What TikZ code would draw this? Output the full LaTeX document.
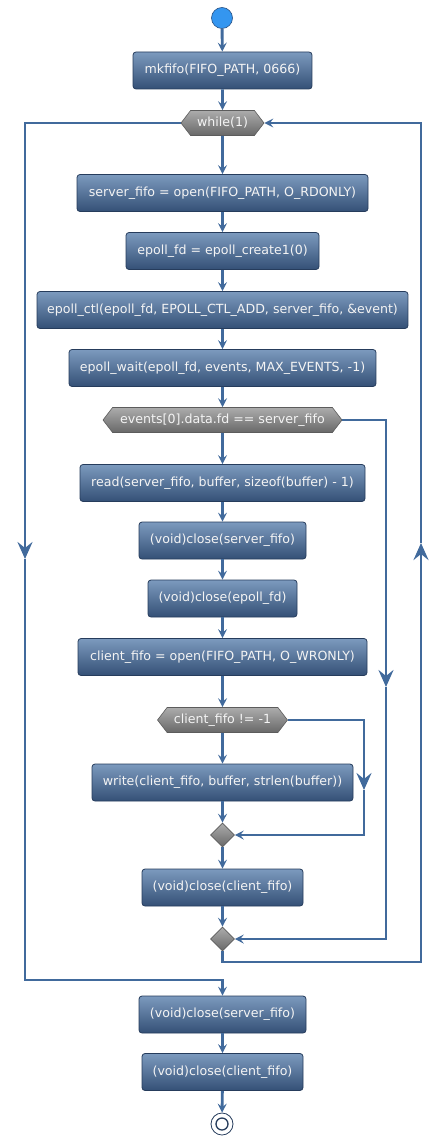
\documentclass[tikz,border=0pt]{standalone}
\usepackage{fontspec}
\setmainfont{DejaVu Sans}
\usetikzlibrary{arrows.meta,shapes.geometric,shapes.symbols}
\definecolor{flowline}{RGB}{65,106,156}
\definecolor{acttop}{RGB}{124,154,190}
\definecolor{actbottom}{RGB}{52,80,118}
\definecolor{actborder}{RGB}{38,60,92}
\definecolor{testtop}{RGB}{172,172,172}
\definecolor{testbottom}{RGB}{104,104,104}
\definecolor{testborder}{RGB}{92,92,92}
\definecolor{acttext}{RGB}{244,244,244}
\definecolor{startfill}{RGB}{52,150,240}
\definecolor{startborder}{RGB}{40,80,130}

\begin{document}
\begin{tikzpicture}[x=1pt, y=-1pt,
                      act/.style={draw=actborder, line width=.8pt, rounded corners=3pt, top color=acttop, bottom color=actbottom,
                                  text=acttext, minimum height=37pt, inner sep=0pt, font=\fontsize{12.6}{14}\selectfont},
                      test/.style={shape=signal, signal to=west and east, signal pointer angle=105, draw=testborder, line width=.6pt,
                                   top color=testtop, bottom color=testbottom, text=acttext, minimum height=25pt, inner sep=0pt,
                                   font=\fontsize{12.6}{14}\selectfont},
                      merge/.style={diamond, draw=testborder, line width=.6pt, top color=testtop, bottom color=testbottom,
                                    minimum size=24pt, inner sep=0pt},
                      loop/.style={draw=flowline, line width=2.9pt},
                      flow/.style={loop, -{Stealth[length=9pt, width=9pt, inset=3.5pt]}},
                      bigtip/.style={loop, -{Stealth[length=17pt, width=15pt, inset=6pt]}}]
                      \useasboundingbox (0,0) rectangle (446,1145);
                      % start and end
                      \node[circle, fill=startfill, draw=startborder, line width=.6pt, minimum size=21pt, inner sep=0pt] (start) at (222,18) {};
                      \node[circle, fill=white, draw=actborder, line width=.8pt, minimum size=22pt, inner sep=0pt] (stop) at (222,1124) {};
                      \node[circle, draw=actborder, line width=1.3pt, minimum size=12pt, inner sep=0pt] (stopin) at (stop) {};
                      % actions
                      \node[act, minimum width=179pt] (mk) at (222.5,70.5) {mkfifo(FIFO\_PATH, 0666)};
                      \node[test, minimum width=83pt] (wh) at (222.5,123) {while(1)};
                      \node[act, minimum width=291pt] (srv) at (222.5,193) {server\_fifo = open(FIFO\_PATH, O\_RDONLY)};
                      \node[act, minimum width=193pt] (efd) at (222.5,251) {epoll\_fd = epoll\_create1(0)};
                      \node[act, minimum width=371pt] (ectl) at (222.5,310) {epoll\_ctl(epoll\_fd, EPOLL\_CTL\_ADD, server\_fifo, \&event)};
                      \node[act, minimum width=307pt] (ewait) at (222.5,368) {epoll\_wait(epoll\_fd, events, MAX\_EVENTS, -1)};
                      \node[test, minimum width=239pt] (ev) at (222.5,420) {events[0].data.fd == server\_fifo};
                      \node[act, minimum width=285pt] (rd) at (222.5,483) {read(server\_fifo, buffer, sizeof(buffer) - 1)};
                      \node[act, minimum width=167pt] (cls) at (222.5,540.5) {(void)close(server\_fifo)};
                      \node[act, minimum width=149pt] (cle) at (222.5,598.5) {(void)close(epoll\_fd)};
                      \node[act, minimum width=289pt] (opc) at (222.5,657) {client\_fifo = open(FIFO\_PATH, O\_WRONLY)};
                      \node[test, minimum width=130pt] (chk) at (222.5,720) {client\_fifo != -1};
                      \node[act, minimum width=261pt] (wr) at (222.5,782.5) {write(client\_fifo, buffer, strlen(buffer))};
                      \node[merge] (m1) at (222.5,835) {};
                      \node[act, minimum width=161pt] (clc) at (222.5,887.5) {(void)close(client\_fifo)};
                      \node[merge] (m2) at (222.5,939) {};
                      \node[act, minimum width=167pt] (fs) at (222.5,1014.5) {(void)close(server\_fifo)};
                      \node[act, minimum width=161pt] (fc) at (222.5,1072) {(void)close(client\_fifo)};
                      % main flow
                      \draw[flow] (start) -- (mk);
                      \draw[flow] (mk) -- (wh);
                      \draw[flow] (wh) -- (srv);
                      \draw[flow] (srv) -- (efd);
                      \draw[flow] (efd) -- (ectl);
                      \draw[flow] (ectl) -- (ewait);
                      \draw[flow] (ewait) -- (ev);
                      \draw[flow] (ev) -- (rd);
                      \draw[flow] (rd) -- (cls);
                      \draw[flow] (cls) -- (cle);
                      \draw[flow] (cle) -- (opc);
                      \draw[flow] (opc) -- (chk);
                      \draw[flow] (chk) -- (wr);
                      \draw[flow] (wr) -- (m1);
                      \draw[flow] (m1) -- (clc);
                      \draw[flow] (clc) -- (m2);
                      \draw[flow] (fs) -- (fc);
                      \draw[flow] (fc) -- (stop);
                      % if client_fifo
                      \coordinate (chkr) at (364,720);
                      \coordinate (chka) at (364,790);
                      \coordinate (chkb) at (364,835);
                      \draw[bigtip] (chk.east) -- (chkr) -- (chka);
                      \draw[flow] (chka) -- (chkb) -- (m1.east);
                      % if events
                      \coordinate (evr) at (386,420);
                      \coordinate (eva) at (386,687);
                      \coordinate (evb) at (386,939);
                      \draw[bigtip] (ev.east) -- (evr) -- (eva);
                      \draw[flow] (eva) -- (evb) -- (m2.east);
                      % loop back
                      \coordinate (backa) at (222.5,962);
                      \coordinate (backb) at (421,962);
                      \coordinate (backc) at (421,543);
                      \coordinate (backd) at (421,123);
                      \draw[bigtip] (m2.south) -- (backa) -- (backb) -- (backc);
                      \draw[flow] (backc) -- (backd) -- (wh.east);
                      % loop exit
                      \coordinate (exita) at (25,123);
                      \coordinate (exitb) at (25,559);
                      \coordinate (exitc) at (25,980);
                      \coordinate (exitd) at (222.5,980);
                      \draw[bigtip] (wh.west) -- (exita) -- (exitb);
                      \draw[flow] (exitb) -- (exitc) -- (exitd) -- (fs);
                  \end{tikzpicture}
\end{document}
